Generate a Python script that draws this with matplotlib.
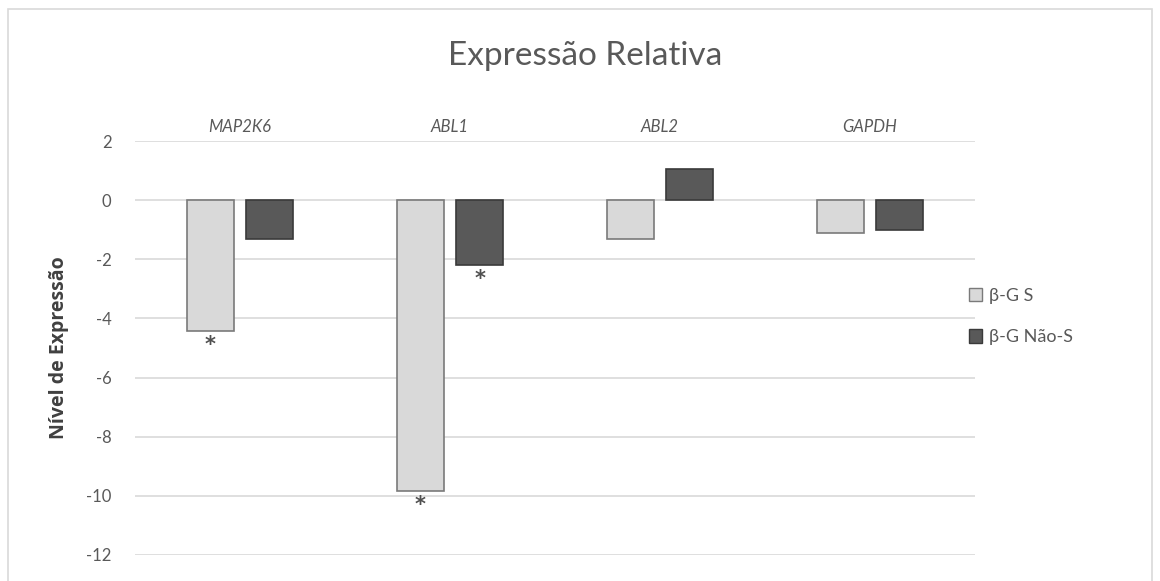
import matplotlib.pyplot as plt
import numpy as np
from matplotlib.patches import Patch, Rectangle

genes = ['MAP2K6', 'ABL1', 'ABL2', 'GAPDH']
serie_s = [-4.42, -9.82, -1.30, -1.12]
serie_nao_s = [-1.30, -2.18, 1.06, -1.00]
signif_s = [True, True, False, False]
signif_nao_s = [False, True, False, False]
y_ticks = [2, 0, -2, -4, -6, -8, -10, -12]

plt.rcParams['font.family'] = ['Lato', 'DejaVu Sans']

fig = plt.figure(figsize=(11.6, 5.81), dpi=100)
ax = fig.add_axes([0.1164, 0.0448, 0.7241, 0.7125])

# moldura da área do gráfico
fig.patches.append(Rectangle((0.007, -0.1), 0.986, 1.085, transform=fig.transFigure,
                             fill=False, edgecolor='#d9d9d9', linewidth=1.2))

x = np.arange(len(genes))
w = 0.225
off = 0.142
ax.bar(x - off, serie_s, w, color='#d9d9d9', edgecolor='#7a7a7a', linewidth=1.2, zorder=3)
ax.bar(x + off, serie_nao_s, w, color='#595959', edgecolor='#3a3a3a', linewidth=1.2, zorder=3)

# asteriscos de significância
for xs, vals, sig in [(x - off, serie_s, signif_s), (x + off, serie_nao_s, signif_nao_s)]:
    for xi, v, s in zip(xs, vals, sig):
        if s:
            ax.annotate('*', (xi, v), xytext=(0, -3), textcoords='offset points',
                        ha='center', va='top', fontsize=15, fontweight='bold',
                        color='#505050', family='DejaVu Sans')

ax.set_xlim(-0.5, len(genes) - 0.5)
ax.set_ylim(-12, 2)
ax.set_yticks(y_ticks)
ax.set_yticklabels([str(t) for t in y_ticks], color='#595959', fontsize=12)
ax.tick_params(axis='y', length=0, pad=17)
ax.xaxis.tick_top()
ax.set_xticks(x)
ax.set_xticklabels(genes, style='italic', color='#595959', fontsize=12)
ax.tick_params(axis='x', length=0, pad=4)
ax.grid(axis='y', color='#d9d9d9', linewidth=1.2, zorder=0)
for sp in ax.spines.values():
    sp.set_visible(False)

ax.set_ylabel('Nível de Expressão', fontsize=14, fontweight='bold', color='#404040',
              labelpad=12, family=['Open Sans', 'DejaVu Sans'])
fig.text(0.504, 0.903, 'Expressão Relativa', ha='center', va='center', fontsize=24, color='#595959')

handles = [Patch(facecolor='#d9d9d9', edgecolor='#7a7a7a'),
           Patch(facecolor='#595959', edgecolor='#3a3a3a')]
fig.legend(handles, ['β-G S', 'β-G Não-S'], loc='center left', bbox_to_anchor=(0.821, 0.455),
           frameon=False, fontsize=13, labelcolor='#595959', handlelength=0.75, handleheight=0.75,
           handletextpad=0.4, labelspacing=1.4)

fig.savefig('out.png', dpi=100)
